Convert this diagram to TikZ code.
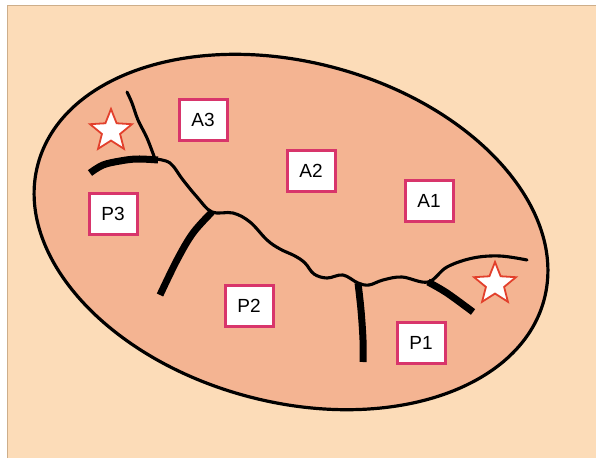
\documentclass[tikz,border=0pt]{standalone}
\usepackage{fontspec}
\setmainfont{Liberation Sans}
\usetikzlibrary{shapes.geometric}
\definecolor{paper}{HTML}{FCDCB8}
\definecolor{paperedge}{HTML}{CDAE8A}
\definecolor{region}{HTML}{F4B492}
\definecolor{boxline}{HTML}{D8356B}
\definecolor{starline}{HTML}{E2402C}
\tikzset{
  label box/.style={draw=boxline, line width=3pt, fill=white, minimum width=48pt,
    minimum height=41pt, inner sep=0pt, font=\fontsize{19}{19}\selectfont},
  thin border/.style={line width=3.1pt, line cap=round, line join=round},
  thick border/.style={line width=7pt, line cap=butt, line join=round},
  marker star/.style={star, star points=5, star point ratio=2.3, minimum size=44pt,
    inner sep=0pt, draw=starline, line width=1.8pt, fill=white},
}
\begin{document}
\begin{tikzpicture}[x=1pt,y=-1pt]
  \useasboundingbox (0,0) rectangle (596,458);
  \fill[white] (0,0) rectangle (596,458);
  \fill[paper] (7,5) rectangle (596,458);
  \draw[paperedge, line width=0.9pt] (7,458) -- (7,5) -- (596,5);

  % the territory
  \draw[line width=3.2pt, fill=region, rotate around={-15:(291,232)}]
    (291,232) ellipse [x radius=262, y radius=170];

  % junctions of the boundaries
  \coordinate (jtop) at (155,159);
  \coordinate (jmid) at (212,212);
  \coordinate (jlow) at (358,283);
  \coordinate (jright) at (428,282);
  \coordinate (tipA) at (90,173);
  \coordinate (tipB) at (160,295);
  \coordinate (tipC) at (363,362);
  \coordinate (tipD) at (473,312);
  \coordinate (endtop) at (127,92);
  \coordinate (endright) at (527,260);

  % thin boundaries
  \draw[thin border] plot[smooth, tension=0.6] coordinates {
    (jtop) (170,163) (183,180) (197,197) (jmid) (233,213) (250,222) (267,240)
    (280,249) (295,256) (305,263) (314,274) (327,278) (343,275) (jlow)
    (369,285) (383,280) (402,277) (jright) (447,267) (473,258) (500,256) (endright)};
  \draw[thin border] plot[smooth, tension=0.6] coordinates {
    (endtop) (132,103) (138,120) (147,138) (jtop)};

  % thick boundaries
  \draw[thick border] plot[smooth, tension=0.6] coordinates {
    (tipA) (103,165) (120,161) (137,159) (158,160)};
  \draw[thick border] plot[smooth, tension=0.6] coordinates {
    (jmid) (193,233) (177,260) (tipB)};
  \draw[thick border] plot[smooth, tension=0.6] coordinates {
    (jlow) (361,310) (363,340) (tipC)};
  \draw[thick border] plot[smooth, tension=0.6] coordinates {
    (jright) (447,293) (tipD)};

  % markers
  \node[marker star] (starL) at (111,131) {};
  \node[marker star] (starR) at (495,284) {};

  % region labels
  \node[label box] (A3) at (203,120) {A3};
  \node[label box] (A2) at (311,171) {A2};
  \node[label box] (A1) at (429,201) {A1};
  \node[label box] (P3) at (113,214) {P3};
  \node[label box] (P2) at (249,306) {P2};
  \node[label box] (P1) at (421,343) {P1};
\end{tikzpicture}
\end{document}
